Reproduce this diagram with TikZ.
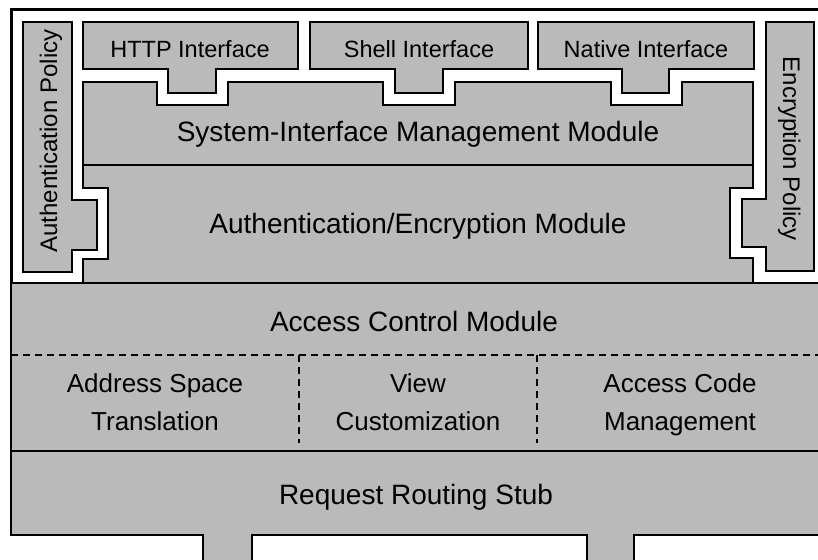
\documentclass[tikz,border=0pt]{standalone}
\usepackage{fontspec}
\setmainfont{Liberation Sans}
\definecolor{shade}{gray}{0.73}
\begin{document}
\begin{tikzpicture}[x=1pt,y=-1pt,
  block/.style={fill=shade,draw=black,line width=1.8pt,line join=miter},
  frame/.style={draw=black,line width=3pt},
  sep/.style={draw=black,line width=1.8pt},
  dsep/.style={draw=black,line width=1.4pt,dash pattern=on 7pt off 5pt},
  small/.style={font=\fontsize{23.5}{26}\selectfont,anchor=base,inner sep=0pt},
  big/.style={font=\fontsize{28}{32}\selectfont,anchor=base,inner sep=0pt},
  mid/.style={font=\fontsize{26}{38}\selectfont,anchor=base,inner sep=0pt,align=center}]
\useasboundingbox (0,0) rectangle (818,559);
\fill[white] (0,0) rectangle (818,559);
\clip (0,0) rectangle (818,559);

% upper enclosure
\draw[frame,fill=white] (11,10) rectangle (830,283);

% lower part: access control and routing stub
\draw[block,line width=2.6pt] (11,283) -- (830,283) -- (830,535) -- (634,535) -- (634,570)
  -- (587,570) -- (587,535) -- (252,535) -- (252,570) -- (203,570) -- (203,535)
  -- (11,535) -- cycle;
\draw[dsep] (11,355) -- (830,355);
\draw[dsep] (299,355) -- (299,443);
\draw[dsep] (537,355) -- (537,443);
\draw[sep,line width=2pt] (11,451) -- (830,451);

% interface boxes
\draw[block] (83,22) -- (298,22) -- (298,69) -- (216,69) -- (216,93) -- (168,93)
  -- (168,69) -- (83,69) -- cycle;
\draw[block] (310,22) -- (528,22) -- (528,69) -- (443,69) -- (443,93) -- (395,93)
  -- (395,69) -- (310,69) -- cycle;
\draw[block] (538,22) -- (754,22) -- (754,69) -- (669,69) -- (669,93) -- (622,93)
  -- (622,69) -- (538,69) -- cycle;

% management + authentication/encryption module
\draw[block] (83,82) -- (157,82) -- (157,105) -- (228,105) -- (228,82) -- (383,82)
  -- (383,105) -- (455,105) -- (455,82) -- (611,82) -- (611,105) -- (682,105)
  -- (682,82) -- (753,82) -- (753,188) -- (730,188) -- (730,258) -- (753,258)
  -- (753,283) -- (83,283) -- (83,259) -- (108,259) -- (108,188) -- (83,188) -- cycle;
\draw[sep,line width=1.5pt] (83,165) -- (753,165);

% policy boxes
\draw[block] (23,22) -- (72,22) -- (72,200) -- (97,200) -- (97,250) -- (72,250)
  -- (72,272) -- (23,272) -- cycle;
\draw[block] (766,22) -- (814,22) -- (814,271) -- (766,271) -- (766,247) -- (742,247)
  -- (742,199) -- (766,199) -- cycle;

% labels
\node[small] (http) at (190,58) {HTTP Interface};
\node[small] (shell) at (419,58) {Shell Interface};
\node[small] (native) at (646,58) {Native Interface};
\node[big] (simm) at (418,141) {System-Interface Management Module};
\node[big] (aem) at (418,233) {Authentication/Encryption Module};
\node[small,font=\fontsize{24}{26}\selectfont,rotate=90] (authpol) at (57,141) {Authentication Policy};
\node[small,font=\fontsize{24}{26}\selectfont,rotate=-90] (encpol) at (783,149) {Encryption Policy};
\node[big] (acm) at (414,331) {Access Control Module};
\node[mid] (ast) at (155,430) {Address Space\\Translation};
\node[mid] (vc) at (418,430) {View\\Customization};
\node[mid] (acmg) at (680,430) {Access Code\\Management};
\node[big] (rrs) at (416,504) {Request Routing Stub};
\end{tikzpicture}
\end{document}
